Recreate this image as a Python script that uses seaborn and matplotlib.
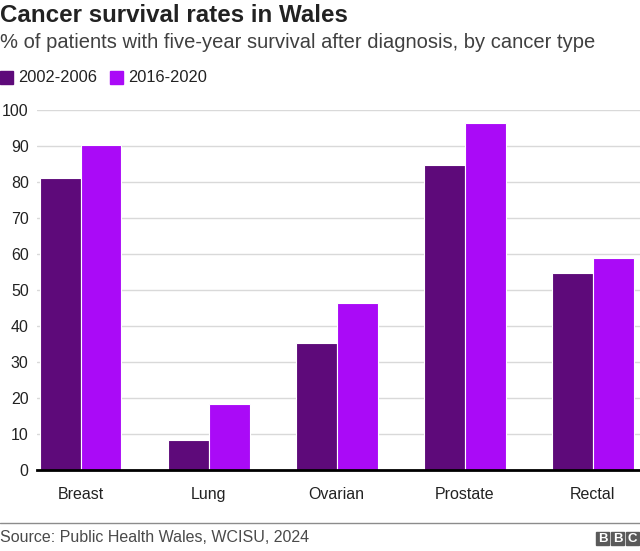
import matplotlib
matplotlib.use("Agg")
import matplotlib.pyplot as plt
import matplotlib.patches as mpatches
import seaborn as sns
import pandas as pd

categories = ["Breast", "Lung", "Ovarian", "Prostate", "Rectal"]
series_names = ["2002-2006", "2016-2020"]
values_2002 = [81.0, 8.4, 35.4, 84.8, 54.6]
values_2016 = [90.2, 18.2, 46.5, 96.4, 59.0]
colors = ["#5E0A7A", "#AA0AF7"]
y_ticks = [0, 10, 20, 30, 40, 50, 60, 70, 80, 90, 100]

df = pd.DataFrame({
    "cancer": categories * 2,
    "period": [series_names[0]] * len(categories) + [series_names[1]] * len(categories),
    "value": values_2002 + values_2016,
})

sns.set_style("white")
plt.rcParams["font.family"] = ["Liberation Sans", "DejaVu Sans"]

fig = plt.figure(figsize=(6.4, 5.51), dpi=100)
ax = fig.add_axes([37 / 640, 1 - 470 / 551, 1 - 37 / 640, 360 / 551])

sns.barplot(data=df, x="cancer", y="value", hue="period", order=categories,
            hue_order=series_names, palette=colors, width=0.64,
            edgecolor="white", linewidth=0.8, saturation=1, ax=ax, legend=False)

ax.set_ylim(0, 100)
ax.set_xlim(-0.34, 4.37)
ax.set_yticks(y_ticks)
ax.set_yticklabels([str(t) for t in y_ticks])
ax.yaxis.grid(True, color="#d9d9d9", linewidth=1)
ax.set_axisbelow(True)
for s in ["top", "right", "left"]:
    ax.spines[s].set_visible(False)
ax.spines["bottom"].set_color("black")
ax.spines["bottom"].set_linewidth(2)
ax.set_xlabel("")
ax.set_ylabel("")
ax.tick_params(axis="y", length=0, pad=6, labelsize=11.5, labelcolor="#222222")
ax.tick_params(axis="x", length=0, pad=12, labelsize=11.5, labelcolor="#222222")

# Titles
fig.text(0.0, 1 - 16 / 551, "Cancer survival rates in Wales", fontsize=17.4, fontweight="bold",
         color="#222222", va="center", ha="left")
fig.text(0.0, 1 - 43 / 551, "% of patients with five-year survival after diagnosis, by cancer type",
         fontsize=14.5, color="#404040", va="center", ha="left")

# Legend
leg_y = 1 - 77 / 551
sq_w, sq_h = 13 / 640, 13 / 551
for x0, name, c in [(0, series_names[0], colors[0]), (110, series_names[1], colors[1])]:
    fig.patches.append(mpatches.Rectangle((x0 / 640, leg_y - sq_h / 2), sq_w, sq_h,
                                          transform=fig.transFigure, color=c, figure=fig))
    fig.text((x0 + 18) / 640, leg_y, name, fontsize=11.8, color="#222222",
             va="center", ha="left")

# Footer
fig.add_artist(plt.Line2D([0, 1], [1 - 523 / 551] * 2, transform=fig.transFigure,
                          color="#8c8c8c", linewidth=1))
fig.text(0.0, 1 - 538 / 551, "Source: Public Health Wales, WCISU, 2024", fontsize=11.5,
         color="#4a4a4a", va="center", ha="left")
# BBC blocks
bw, bh = 13 / 640, 13 / 551
for i, letter in enumerate("BBC"):
    x0 = (596 + i * 15) / 640
    fig.patches.append(mpatches.Rectangle((x0, 1 - 545 / 551), bw, bh,
                                          transform=fig.transFigure, color="#5a5a5a", figure=fig))
    fig.text(x0 + bw / 2, 1 - 538.5 / 551, letter, fontsize=9.5, fontweight="bold",
             color="white", va="center", ha="center")

fig.savefig("out.png", dpi=100)
